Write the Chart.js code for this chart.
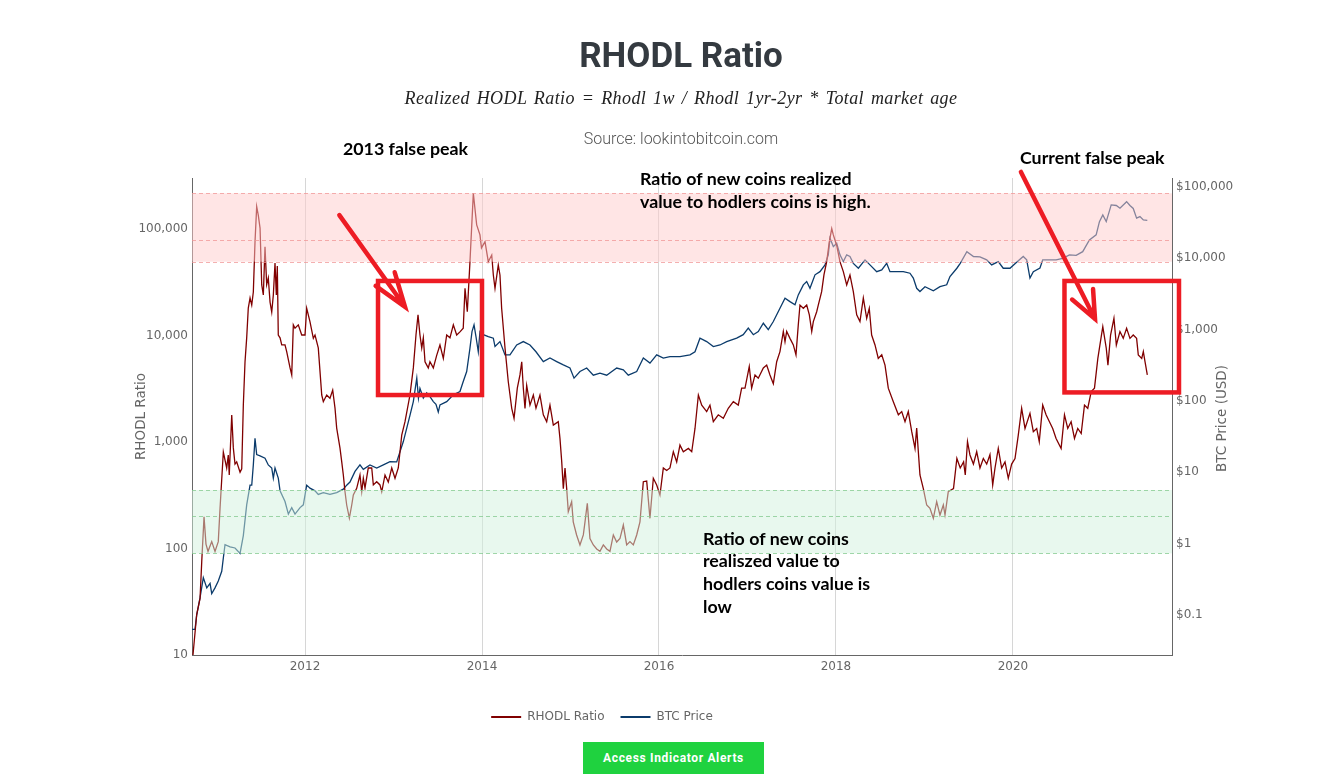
<!DOCTYPE html>
<html>
<head>
<meta charset="utf-8">
<script src="https://cdn.jsdelivr.net/npm/chart.js@4.4.1/dist/chart.umd.min.js"></script>
<style>
  html, body { margin: 0; padding: 0; background: #fff; width: 1325px; height: 776px; overflow: hidden; }
  #wrap { position: relative; width: 1325px; height: 776px; }
  #c { position: absolute; left: 0; top: 0; }
  .t { position: absolute; width: 1000px; text-align: center; white-space: nowrap; }
  #title { left: 181px; top: 38px; font: 700 35px Roboto, sans-serif; line-height: 35px; color: #343a40; }
  #formula { left: 181px; top: 88px; font: italic 18px "Liberation Serif", serif; line-height: 20px; color: #222; letter-spacing: 0.4px; word-spacing: 2px; }
  #source { left: 181px; top: 130px; font: 300 16px Roboto, sans-serif; line-height: 18px; color: #555; }
  #btn { position: absolute; left: 583px; top: 742px; width: 181px; height: 32px; background: #1fd23f;
         color: #fff; font: 700 12px Roboto, sans-serif; letter-spacing: 0.65px; line-height: 32px; text-align: center; }
</style>
</head>
<body>
<div id="wrap">
  <canvas id="c" width="1325" height="776"></canvas>
  <div class="t" id="title">RHODL Ratio</div>
  <div class="t" id="formula">Realized HODL Ratio = Rhodl 1w / Rhodl 1yr-2yr * Total market age</div>
  <div class="t" id="source">Source: lookintobitcoin.com</div>
  <div id="btn">Access Indicator Alerts</div>
</div>
<script>
// ---------------- DATA ----------------
const rhodlDates = [
  2010.734,2010.776,2010.814,2010.833,2010.859,2010.881,2010.904,2010.946,2010.983,2011.020,
  2011.040,2011.077,2011.115,2011.133,2011.144,2011.172,2011.190,2011.209,2011.228,2011.266,
  2011.285,2011.303,2011.322,2011.341,2011.359,2011.379,2011.398,2011.416,2011.435,2011.454,
  2011.472,2011.492,2011.511,2011.529,2011.548,2011.567,2011.585,2011.605,2011.624,2011.642,
  2011.661,2011.676,2011.687,2011.698,2011.718,2011.737,2011.774,2011.793,2011.831,2011.850,
  2011.868,2011.887,2011.924,2011.963,2012.000,2012.019,2012.056,2012.094,2012.113,2012.150,
  2012.189,2012.207,2012.245,2012.282,2012.313,2012.339,2012.358,2012.395,2012.415,2012.433,
  2012.452,2012.471,2012.501,2012.528,2012.546,2012.584,2012.621,2012.641,2012.659,2012.678,
  2012.715,2012.754,2012.772,2012.810,2012.847,2012.867,2012.904,2012.941,2012.980,2013.017,
  2013.054,2013.093,2013.130,2013.186,2013.224,2013.254,2013.277,2013.299,2013.319,2013.337,
  2013.356,2013.393,2013.412,2013.450,2013.488,2013.525,2013.563,2013.601,2013.638,2013.676,
  2013.714,2013.751,2013.788,2013.808,2013.834,2013.864,2013.902,2013.940,2013.977,2013.994,
  2014.034,2014.071,2014.110,2014.128,2014.147,2014.184,2014.203,2014.222,2014.260,2014.297,
  2014.336,2014.362,2014.399,2014.429,2014.449,2014.467,2014.486,2014.505,2014.542,2014.580,
  2014.610,2014.655,2014.693,2014.731,2014.768,2014.806,2014.862,2014.881,2014.901,2014.919,
  2014.938,2014.957,2014.975,2015.013,2015.031,2015.069,2015.107,2015.145,2015.164,2015.190,
  2015.220,2015.258,2015.296,2015.333,2015.371,2015.409,2015.446,2015.484,2015.522,2015.559,
  2015.597,2015.635,2015.672,2015.710,2015.748,2015.785,2015.823,2015.861,2015.898,2015.936,
  2015.974,2016.011,2016.049,2016.087,2016.124,2016.162,2016.200,2016.237,2016.275,2016.332,
  2016.370,2016.407,2016.445,2016.483,2016.539,2016.576,2016.614,2016.670,2016.727,2016.783,
  2016.840,2016.896,2016.934,2016.972,2017.020,2017.047,2017.085,2017.122,2017.179,2017.217,
  2017.254,2017.292,2017.330,2017.367,2017.405,2017.424,2017.443,2017.480,2017.518,2017.548,
  2017.574,2017.593,2017.631,2017.669,2017.699,2017.726,2017.744,2017.782,2017.800,2017.838,
  2017.864,2017.895,2017.925,2017.952,2017.970,2018.008,2018.045,2018.083,2018.121,2018.158,
  2018.196,2018.234,2018.271,2018.309,2018.347,2018.376,2018.403,2018.441,2018.478,2018.517,
  2018.554,2018.591,2018.648,2018.705,2018.743,2018.780,2018.817,2018.856,2018.893,2018.912,
  2018.949,2018.987,2019.025,2019.062,2019.100,2019.138,2019.175,2019.213,2019.232,2019.269,
  2019.328,2019.366,2019.404,2019.442,2019.461,2019.486,2019.514,2019.553,2019.590,2019.627,
  2019.665,2019.703,2019.740,2019.771,2019.797,2019.834,2019.872,2019.910,2019.947,2019.985,
  2020.023,2020.060,2020.098,2020.136,2020.192,2020.230,2020.268,2020.297,2020.336,2020.374,
  2020.412,2020.449,2020.487,2020.544,2020.582,2020.619,2020.657,2020.695,2020.732,2020.771,
  2020.808,2020.845,2020.884,2020.921,2020.959,2020.977,2021.015,2021.054,2021.073,2021.103,
  2021.141,2021.168,2021.209,2021.246,2021.284,2021.322,2021.359,2021.397,2021.416,2021.455,
  2021.473,2021.492,2021.518
];
const rhodlValues = [
  10,24,34,75,198,110,94,116,94,116,
  240,805,570,755,490,1795,880,620,650,520,
  560,2220,5640,9500,18100,22500,19300,25600,75500,162000,
  135000,102000,29800,24000,68200,30000,34700,20600,16600,24000,
  47900,24000,45000,10100,9500,8150,8150,7050,4960,4260,
  12570,11700,12570,10100,10100,18000,13500,9400,10100,7640,
  2760,2390,2760,2570,3070,2080,1350,880,650,490,
  341,256,193,256,318,367,490,341,456,370,
  570,570,395,424,395,341,490,420,570,456,
  570,1160,1550,2760,4960,10100,15600,10100,7640,9500,
  5670,4960,5670,4960,6500,8150,6100,10100,9500,12570,
  10100,10800,11700,27700,16700,49300,216000,109000,88000,66400,
  76000,49300,57000,37000,27700,45900,37000,18000,7620,3680,
  2070,1670,3200,4260,5670,3200,2070,3400,2220,2760,
  2080,2760,1800,1550,2220,1440,1550,1080,650,365,
  570,365,222,275,178,134,108,134,178,266,
  124,108,99,94,108,99,94,134,115,124,
  166,108,116,108,134,178,424,430,192,456,
  395,318,570,540,570,810,650,935,810,870,
  810,1340,2760,2220,1930,2220,1550,1800,1670,2070,
  2390,2220,3200,3200,5100,3200,4260,3970,4950,5270,
  4260,3530,5670,7060,10900,8750,10900,9400,8150,6580,
  12570,19300,18000,19300,15600,10900,13500,16700,19300,25800,
  37000,49300,76000,101000,88000,70000,49300,39800,29800,37000,
  25800,15600,13500,22500,14500,18000,10100,8150,6100,6580,
  5270,3200,2390,1800,1930,1550,1930,1250,870,1350,
  490,365,256,238,192,275,206,256,206,341,
  365,700,570,650,490,1007,755,620,810,570,
  700,620,760,395,570,870,570,650,456,620,
  700,1160,2070,1340,1860,1250,1340,1007,2220,1800,
  1550,1340,1080,870,1800,1340,1550,1080,1340,1200,
  2220,2070,2970,3200,6100,7620,12100,7620,5270,10100,
  14500,8150,10900,9400,11700,9400,10100,9400,6580,6100,
  7050,5670,4260
];
const priceDates = [
  2010.723,2010.757,2010.776,2010.814,2010.851,2010.890,2010.927,2010.946,2010.983,2011.020,
  2011.059,2011.077,2011.096,2011.153,2011.209,2011.266,2011.303,2011.341,2011.379,2011.398,
  2011.416,2011.435,2011.454,2011.492,2011.548,2011.585,2011.624,2011.642,2011.661,2011.698,
  2011.718,2011.774,2011.812,2011.850,2011.887,2011.944,2011.981,2012.019,2012.038,2012.056,
  2012.113,2012.150,2012.207,2012.282,2012.358,2012.433,2012.471,2012.508,2012.565,2012.621,
  2012.659,2012.734,2012.810,2012.885,2012.960,2013.036,2013.111,2013.186,2013.224,2013.263,
  2013.282,2013.299,2013.337,2013.375,2013.412,2013.450,2013.480,2013.506,2013.525,2013.601,
  2013.676,2013.751,2013.788,2013.827,2013.864,2013.887,2013.910,2013.932,2013.958,2013.977,
  2014.015,2014.071,2014.128,2014.147,2014.203,2014.260,2014.316,2014.392,2014.467,2014.542,
  2014.610,2014.693,2014.768,2014.844,2014.919,2014.994,2015.040,2015.107,2015.183,2015.258,
  2015.333,2015.409,2015.522,2015.597,2015.653,2015.748,2015.823,2015.898,2015.974,2016.049,
  2016.124,2016.237,2016.350,2016.407,2016.463,2016.539,2016.614,2016.689,2016.765,2016.878,
  2016.952,2017.009,2017.066,2017.122,2017.179,2017.235,2017.292,2017.367,2017.424,2017.480,
  2017.537,2017.574,2017.631,2017.669,2017.706,2017.763,2017.819,2017.876,2017.913,2017.932,
  2017.970,2018.008,2018.045,2018.083,2018.121,2018.158,2018.196,2018.253,2018.328,2018.384,
  2018.460,2018.517,2018.573,2018.610,2018.686,2018.761,2018.836,2018.874,2018.912,2018.949,
  2019.006,2019.100,2019.175,2019.251,2019.288,2019.366,2019.404,2019.479,2019.554,2019.627,
  2019.703,2019.759,2019.834,2019.890,2019.966,2020.041,2020.116,2020.155,2020.192,2020.230,
  2020.305,2020.336,2020.412,2020.487,2020.562,2020.638,2020.714,2020.788,2020.864,2020.940,
  2020.977,2021.015,2021.054,2021.110,2021.168,2021.209,2021.284,2021.322,2021.359,2021.397,
  2021.435,2021.473,2021.518
];
const priceValues = [
  0.063,0.063,0.1,0.175,0.334,0.24,0.277,0.2,0.24,0.3,
  0.41,0.63,0.97,0.9,0.87,0.73,1.3,3.5,6.6,6.6,
  12.7,30,17.7,17,15.8,12.7,11.5,8.3,11.5,8.3,
  5.5,3.9,2.6,3.2,2.6,3.2,3.5,6.6,6.3,6,
  5.5,4.9,5.2,4.9,5.2,5.8,6.6,7.3,10.3,12.7,
  11,12.7,11.5,12.7,14.1,14,27,63,98,209,
  110,150,110,130,115,98,90,70,88,98,
  122,136,188,259,550,940,1170,800,490,940,
  850,800,760,580,680,443,443,610,680,610,
  490,357,400,357,320,290,209,259,290,230,
  245,230,290,273,230,259,400,340,443,400,
  420,420,443,490,760,680,580,610,680,760,
  850,1050,850,940,1230,1000,1300,2000,2760,2470,
  2230,3070,4240,4720,3800,5870,6500,8080,11200,19100,
  14600,16300,11200,9000,11200,10600,8500,7260,9500,8080,
  6500,6880,8500,6500,6500,6500,6180,5280,3800,3420,
  4000,3500,4000,4250,5550,7260,8500,12400,10600,10500,
  9500,8080,9000,7260,7260,8800,10600,9500,5280,6500,
  7300,9500,9500,9500,10000,11200,11000,12400,18100,21300,
  32700,40600,32700,56000,55000,50300,62200,55000,50000,36500,
  38500,34500,34000
];
const yearTicks  = [2012, 2014, 2016, 2018, 2020];
const ratioTicks = [10, 100, 1000, 10000, 100000];
const priceTicks = [0.1, 1, 10, 100, 1000, 10000, 100000];
const highBand = [49300, 78900, 216000];   // RHODL levels: lower edge, middle, upper edge
const lowBand  = [90, 202, 354];

// ---------------- annotations (in data units) ----------------
const boxNotes = [
  { x0: 2012.825, x1: 2014.000, y0: 32500, y1: 2760 },
  { x0: 2020.582, x1: 2021.876, y0: 32500, y1: 2920 }
];
const arrowNotes = [
  { x0: 2012.388, y0: 135000, x1: 2013.130, y1: 18600, head: 36, spread: 19 },
  { x0: 2020.090, y0: 343000, x1: 2020.927, y1: 14300, head: 30, spread: 23 }
];
const textNotes = [
  { x: 2012.429, y: 564000, lines: ['2013 false peak'] },
  { x: 2020.079, y: 464000, lines: ['Current false peak'] },
  { x: 2015.785, y: 294000, lines: ['Ratio of new coins realized', 'value to hodlers coins is high.'] },
  { x: 2016.497, y: 123, lines: ['Ratio of new coins', 'realiszed value to', 'hodlers coins value is', 'low'] }
];

// ---------------- plugins ----------------
const bandPlugin = {
  id: 'bands',
  afterLayout(chart) {
    // legend of the reference is centred a little left of the page centre
    if (chart.legend) { chart.legend.left = 0; chart.legend.right = chart.width - 121; }
  },
  afterDatasetsDraw(chart) {
    const { ctx, chartArea: a, scales: { y } } = chart;
    ctx.save();
    ctx.beginPath();
    ctx.rect(a.left, a.top, a.right - a.left, a.bottom - a.top);
    ctx.clip();
    const drawBand = (band, fill, dash) => {
      const yTop = y.getPixelForValue(band[2]);
      const yBot = y.getPixelForValue(band[0]);
      ctx.fillStyle = fill;
      ctx.fillRect(a.left, yTop, a.right - a.left, yBot - yTop);
      ctx.strokeStyle = dash;
      ctx.lineWidth = 1;
      ctx.setLineDash([4, 3]);
      band.forEach(v => {
        const py = Math.round(y.getPixelForValue(v)) + 0.5;
        ctx.beginPath();
        ctx.moveTo(a.left, py);
        ctx.lineTo(a.right, py);
        ctx.stroke();
      });
      ctx.setLineDash([]);
    };
    drawBand(highBand, 'rgba(255,203,203,0.5)', 'rgba(240,150,150,0.75)');
    drawBand(lowBand, 'rgba(210,242,222,0.5)', 'rgba(130,200,140,0.75)');
    ctx.restore();
  }
};

const notePlugin = {
  id: 'notes',
  afterDraw(chart) {
    const { ctx, chartArea: a, scales: { x, y } } = chart;
    ctx.save();
    // axis titles
    ctx.fillStyle = '#666';
    ctx.font = '13.5px "DejaVu Sans"';
    ctx.textAlign = 'center';
    ctx.textBaseline = 'middle';
    const midY = (a.top + a.bottom) / 2;
    ctx.save(); ctx.translate(a.left - 51, midY); ctx.rotate(-Math.PI / 2);
    ctx.fillText('RHODL Ratio', 0, 0); ctx.restore();
    ctx.save(); ctx.translate(a.right + 50, midY + 2); ctx.rotate(-Math.PI / 2);
    ctx.fillText('BTC Price (USD)', 0, 0); ctx.restore();

    // red boxes and arrows
    const red = '#ed1c24';
    ctx.strokeStyle = red;
    ctx.lineWidth = 4.5;
    boxNotes.forEach(b => {
      const x0 = x.getPixelForValue(b.x0), x1 = x.getPixelForValue(b.x1);
      const y0 = y.getPixelForValue(b.y0), y1 = y.getPixelForValue(b.y1);
      ctx.lineCap = 'butt';
      ctx.strokeRect(x0, y0, x1 - x0, y1 - y0);
    });
    ctx.lineCap = 'round';
    arrowNotes.forEach(ar => {
      const sx = x.getPixelForValue(ar.x0), sy = y.getPixelForValue(ar.y0);
      const tx = x.getPixelForValue(ar.x1), ty = y.getPixelForValue(ar.y1);
      const ang = Math.atan2(sy - ty, sx - tx);
      const sp = ar.spread * Math.PI / 180;
      ctx.beginPath();
      ctx.moveTo(sx, sy); ctx.lineTo(tx, ty);
      ctx.moveTo(tx + ar.head * Math.cos(ang + sp), ty + ar.head * Math.sin(ang + sp));
      ctx.lineTo(tx, ty);
      ctx.lineTo(tx + ar.head * Math.cos(ang - sp), ty + ar.head * Math.sin(ang - sp));
      ctx.stroke();
    });

    // text notes
    ctx.fillStyle = '#000';
    ctx.font = 'bold 17.8px Lato';
    ctx.textAlign = 'left';
    ctx.textBaseline = 'middle';
    textNotes.forEach(t => {
      const px = x.getPixelForValue(t.x), py = y.getPixelForValue(t.y);
      t.lines.forEach((ln, i) => ctx.fillText(ln, px, py + i * 22.7));
    });
    ctx.restore();
  }
};

// ---------------- chart ----------------
const tickFont = { family: 'DejaVu Sans', size: 12 };
const n1 = Math.min(rhodlDates.length, rhodlValues.length);
const n2 = Math.min(priceDates.length, priceValues.length);

new Chart(document.getElementById('c'), {
  type: 'line',
  data: {
    datasets: [
      {
        label: 'RHODL Ratio',
        data: rhodlDates.slice(0, n1).map((d, i) => ({ x: d, y: rhodlValues[i] })),
        yAxisID: 'y',
        borderColor: '#800000',
        backgroundColor: '#800000',
        borderWidth: 1.3,
        pointRadius: 0,
        tension: 0
      },
      {
        label: 'BTC Price',
        data: priceDates.slice(0, n2).map((d, i) => ({ x: d, y: priceValues[i] })),
        yAxisID: 'y2',
        borderColor: '#0b3b6b',
        backgroundColor: '#0b3b6b',
        borderWidth: 1.3,
        pointRadius: 0,
        tension: 0
      }
    ]
  },
  options: {
    responsive: false,
    animation: false,
    events: [],
    layout: { padding: { top: 178, left: 0, right: 0, bottom: 43 } },
    scales: {
      x: {
        type: 'linear',
        min: 2010.723,
        max: 2021.797,
        afterBuildTicks: s => { s.ticks = yearTicks.map(v => ({ value: v })); },
        afterFit: s => { s.height = 40; },
        ticks: { callback: v => String(v), color: '#666', font: tickFont, padding: 5, maxRotation: 0, autoSkip: false },
        grid: { color: '#d6d6d6', drawTicks: false, lineWidth: 1 },
        border: { display: true, color: '#666', width: 1 }
      },
      y: {
        type: 'logarithmic',
        position: 'left',
        min: 10,
        max: 301000,
        afterBuildTicks: s => { s.ticks = ratioTicks.map(v => ({ value: v })); },
        afterFit: s => { s.width = 192; },
        ticks: { callback: v => Number(v).toLocaleString('en-US'), color: '#666', font: tickFont, padding: 4 },
        grid: { display: false, drawTicks: false },
        border: { display: true, color: '#666', width: 1 }
      },
      y2: {
        type: 'logarithmic',
        position: 'right',
        min: 0.0275,
        max: 133600,
        afterBuildTicks: s => { s.ticks = priceTicks.map(v => ({ value: v })); },
        afterFit: s => { s.width = 153; },
        ticks: { callback: v => '$' + (v < 1 ? String(v) : Number(v).toLocaleString('en-US')), color: '#666', font: tickFont, padding: 4 },
        grid: { display: false, drawTicks: false },
        border: { display: true, color: '#666', width: 1 }
      }
    },
    plugins: {
      legend: {
        position: 'bottom',
        labels: {
          boxWidth: 30, boxHeight: 2, padding: 16, color: '#666',
          font: { family: 'DejaVu Sans', size: 12 },
          generateLabels: chart => Chart.defaults.plugins.legend.labels.generateLabels(chart).map(it => Object.assign(it, { lineWidth: 0 }))
        }
      },
      tooltip: { enabled: false },
      title: { display: false }
    }
  },
  plugins: [bandPlugin, notePlugin]
});
</script>
</body>
</html>
